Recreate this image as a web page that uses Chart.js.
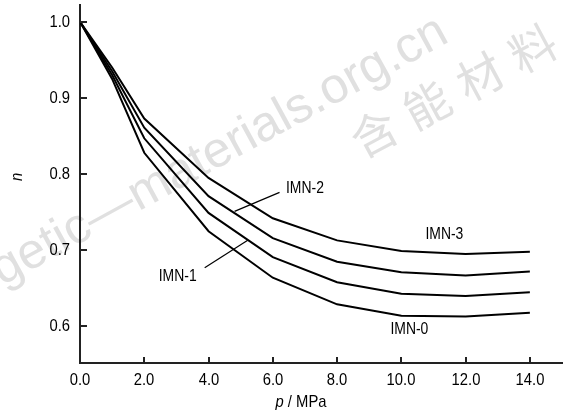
<!DOCTYPE html>
<html>
<head>
<meta charset="utf-8">
<script src="https://cdn.jsdelivr.net/npm/chart.js@4.4.0/dist/chart.umd.min.js"></script>
<style>
  html, body { margin: 0; padding: 0; background: #fff; }
  #wrap { width: 565px; height: 416px; position: relative; }
</style>
</head>
<body>
<div id="wrap"><canvas id="chart" width="565" height="416"></canvas></div>
<script>
// pressure p / MPa
const pressure = [0, 1, 2, 4, 6, 8, 10, 12, 14];
// n for each sample
const imn0 = [1.0, 0.925, 0.828, 0.725, 0.664, 0.629, 0.614, 0.613, 0.618];
const imn1 = [1.0, 0.930, 0.847, 0.749, 0.691, 0.658, 0.643, 0.640, 0.645];
const imn2 = [1.0, 0.935, 0.861, 0.771, 0.716, 0.685, 0.671, 0.667, 0.672];
const imn3 = [1.0, 0.940, 0.873, 0.795, 0.742, 0.713, 0.699, 0.695, 0.698];

const xTicks = [0, 2, 4, 6, 8, 10, 12, 14];
const yTicks = [0.6, 0.7, 0.8, 0.9, 1.0];

// curve labels, in data units: [text, x, n]
const curveLabels = [
    ["IMN-3", 11.34, 0.720],
    ["IMN-2", 7.0, 0.781],
    ["IMN-1", 3.04, 0.665],
    ["IMN-0", 10.25, 0.596]
];
// leader lines: [x1, n1, x2, n2]
const leaders = [
    [6.21, 0.776, 4.81, 0.751],
    [3.88, 0.677, 5.22, 0.713]
];

const FONT = "'Liberation Sans', Arial, sans-serif";
const NARROW = 0.87; // squeeze to look like Arial Narrow

const toPoints = vals => vals.map((v, i) => ({ x: pressure[i], y: v }));

const series = [imn0, imn1, imn2, imn3].map((vals, i) => ({
    label: "IMN-" + i,
    data: toPoints(vals),
    borderColor: "#000",
    borderWidth: 2,
    pointRadius: 0,
    tension: 0,
    fill: false
}));

// draw narrow text aligned at (x, y)
function narrowText(ctx, text, x, y, align, font) {
    ctx.save();
    ctx.font = font;
    ctx.translate(x, y);
    ctx.scale(NARROW, 1);
    ctx.textAlign = align;
    ctx.textBaseline = "middle";
    ctx.fillText(text, 0, 0);
    ctx.restore();
}

// watermark behind everything
const watermark = {
    id: "watermark",
    beforeDraw(chart) {
        const ctx = chart.ctx;
        ctx.save();
        ctx.fillStyle = "#e0e0e0";
        ctx.font = "50px 'Liberation Sans', Arial, sans-serif";
        ctx.translate(2, 286);
        ctx.rotate(-0.5);
        const skip = ctx.measureText("ener").width;
        ctx.textBaseline = "alphabetic";
        ctx.fillText("energetic\u2014materials.org.cn", -skip, 0);
        ctx.restore();

        ctx.save();
        ctx.fillStyle = "#e0e0e0";
        ctx.font = "46px 'Noto Sans CJK SC', sans-serif";
        ctx.translate(374, 133);
        ctx.rotate(-0.49);
        ctx.textAlign = "center";
        ctx.textBaseline = "middle";
        const chars = ["含", "能", "材", "料"];
        chars.forEach((c, i) => ctx.fillText(c, i * 60, 0));
        ctx.restore();
    }
};

// inward tick marks, tick labels, titles, curve labels
const extras = {
    id: "extras",
    afterDraw(chart) {
        const ctx = chart.ctx;
        const xs = chart.scales.x, ys = chart.scales.y;
        const area = chart.chartArea;
        ctx.save();
        ctx.strokeStyle = "#222";
        ctx.lineWidth = 2;
        ctx.fillStyle = "#000";
        xTicks.forEach(v => {
            const px = Math.round(xs.getPixelForValue(v));
            ctx.beginPath();
            ctx.moveTo(px, area.bottom);
            ctx.lineTo(px, area.bottom - 6);
            ctx.stroke();
            narrowText(ctx, v.toFixed(1), px, 380, "center", "17px " + FONT);
        });
        yTicks.forEach(v => {
            const py = Math.round(ys.getPixelForValue(v));
            ctx.beginPath();
            ctx.moveTo(area.left, py);
            ctx.lineTo(area.left + 7, py);
            ctx.stroke();
            narrowText(ctx, v.toFixed(1), 70, py, "right", "17px " + FONT);
        });

        // leader lines
        ctx.strokeStyle = "#000";
        ctx.lineWidth = 1.2;
        leaders.forEach(l => {
            ctx.beginPath();
            ctx.moveTo(xs.getPixelForValue(l[0]), ys.getPixelForValue(l[1]));
            ctx.lineTo(xs.getPixelForValue(l[2]), ys.getPixelForValue(l[3]));
            ctx.stroke();
        });

        curveLabels.forEach(l => {
            narrowText(ctx, l[0], xs.getPixelForValue(l[1]), ys.getPixelForValue(l[2]), "center", "16px " + FONT);
        });

        // x title: italic p + " / MPa"
        ctx.font = "italic 17px " + FONT;
        const pW = ctx.measureText("p ").width * NARROW;
        ctx.font = "17px " + FONT;
        const restW = ctx.measureText("/ MPa").width * NARROW;
        const startX = 301 - (pW + restW) / 2;
        narrowText(ctx, "p", startX, 402, "left", "italic 17px " + FONT);
        narrowText(ctx, "/ MPa", startX + pW, 402, "left", "17px " + FONT);

        // y title
        ctx.save();
        ctx.translate(17, 177);
        ctx.rotate(-Math.PI / 2);
        narrowText(ctx, "n", 0, 0, "center", "italic 17px " + FONT);
        ctx.restore();
        ctx.restore();
    }
};

new Chart(document.getElementById("chart"), {
    type: "line",
    data: { datasets: series },
    options: {
        responsive: false,
        animation: false,
        layout: { padding: { top: 5, right: 3, left: 0, bottom: 0 } },
        plugins: { legend: { display: false }, tooltip: { enabled: false } },
        scales: {
            x: {
                type: "linear",
                min: 0,
                max: 15,
                afterBuildTicks: s => { s.ticks = xTicks.map(v => ({ value: v })); },
                afterFit: s => { s.height = 53; },
                grid: { display: false, drawTicks: false },
                border: { display: true, color: "#222", width: 2 },
                ticks: { display: false }
            },
            y: {
                type: "linear",
                min: 0.552,
                max: 1.022,
                afterBuildTicks: s => { s.ticks = yTicks.map(v => ({ value: v })); },
                afterFit: s => { s.width = 80; },
                grid: { display: false, drawTicks: false },
                border: { display: true, color: "#222", width: 2 },
                ticks: { display: false }
            }
        }
    },
    plugins: [watermark, extras]
});
</script>
</body>
</html>
